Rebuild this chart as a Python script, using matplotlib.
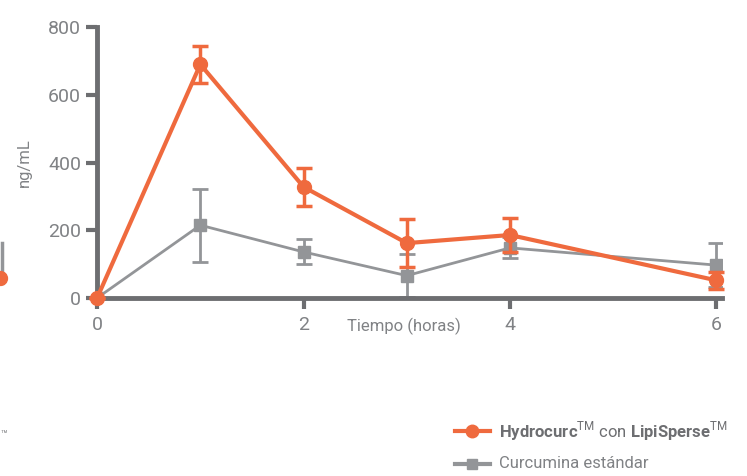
import numpy as np
import matplotlib.pyplot as plt
import matplotlib.transforms as mtransforms
from matplotlib.lines import Line2D

plt.rcParams['font.family'] = ['Roboto', 'DejaVu Sans']
plt.rcParams['mathtext.fontset'] = 'custom'
plt.rcParams['mathtext.bf'] = 'Roboto:bold'
plt.rcParams['mathtext.rm'] = 'Roboto'

# data
horas = [0, 1, 2, 3, 4, 6]
hydro = [0, 690, 328, 162, 186, 52]
hydroErr = [0, 55, 56, 70, 50, 25]
curcu = [0, 215, 136, 66, 148, 97]
curcuErr = [0, 108, 37, 64, 31, 65]

orange = '#ef6a3e'
grey = '#939598'
axisGrey = '#6d6e71'
textGrey = '#808285'

fig = plt.figure(figsize=(7.47, 4.76), dpi=100)
ax = fig.add_axes([0.130, 0.374, 0.836, 0.569])

ax.errorbar(horas, curcu, yerr=curcuErr, color=grey, lw=2, marker='s', ms=8,
            capsize=6, capthick=2, elinewidth=2, zorder=2)
ax.errorbar(horas, hydro, yerr=hydroErr, color=orange, lw=3, marker='o', ms=10,
            capsize=6, capthick=2.5, elinewidth=2.5, zorder=3, clip_on=False)

ax.set_xlim(0, 6.05)
ax.set_ylim(0, 800)
ax.set_xticks([0, 2, 4, 6])
ax.set_yticks([0, 200, 400, 600, 800])

for s in ['top', 'right']:
    ax.spines[s].set_visible(False)
for s in ['left', 'bottom']:
    ax.spines[s].set_color(axisGrey)
    ax.spines[s].set_linewidth(3.5)

ax.tick_params(axis='both', colors=axisGrey, width=3, length=8, labelcolor=textGrey, labelsize=14)
ax.tick_params(axis='x', pad=5)

ax.set_ylabel('ng/mL', color=textGrey, fontsize=12)
ax.yaxis.set_label_coords(-0.105, 0.5)
trans = mtransforms.blended_transform_factory(ax.transData, ax.transAxes)
ax.text(2.97, -0.105, 'Tiempo (horas)', transform=trans,
        ha='center', va='center', color=textGrey, fontsize=12)

# leftover bits from the neighbouring chart (cropped at left edge)
fig.add_artist(Line2D([0.003, 0.003], [1-243/476, 1-283/476], color=grey, lw=2.5))
fig.add_artist(Line2D([0.0], [1-278/476], color=orange, marker='o', ms=10))
fig.text(0.0, 1-435/476, '\u2122', color=textGrey, fontsize=8, va='center')

# legend
fig.add_artist(Line2D([455/747, 472/747, 490/747], [1-431/476]*3, color=orange, lw=3,
                      marker='o', ms=9, markevery=[1]))
fig.add_artist(Line2D([455/747, 472/747, 490/747], [1-464/476]*3, color=grey, lw=3,
                      marker='s', ms=7, markevery=[1]))
tm = r'$^{\mathrm{TM}}$'
fig.text(499/747, 1-431/476, r'$\mathbf{Hydrocurc}$' + tm + ' con ' + r'$\mathbf{LipiSperse}$' + tm,
         color=axisGrey, fontsize=12, va='center')
fig.text(499/747, 1-464/476, 'Curcumina estándar', color=textGrey, fontsize=12, va='center')

plt.savefig('out.png', dpi=100)
